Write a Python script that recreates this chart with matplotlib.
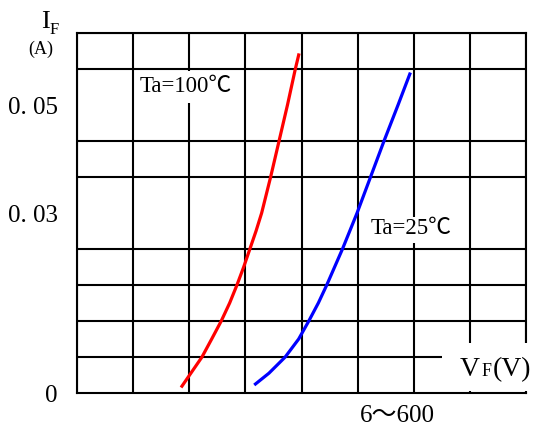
import matplotlib
matplotlib.use('Agg')
import matplotlib.pyplot as plt
from matplotlib.patches import Rectangle
from matplotlib.offsetbox import TextArea, HPacker, AnnotationBbox

# grid units: 8 columns (V) x 10 rows (I)
red_x = [1.87, 2.227, 2.40, 2.57, 2.72, 2.85, 2.97, 3.08, 3.19, 3.29,
         3.45, 3.60, 3.75, 3.89, 3.95]
red_y = [0.19, 1.0, 1.5, 2.0, 2.5, 3.0, 3.5, 4.0, 4.5, 5.0,
         6.0, 7.0, 8.0, 9.0, 9.39]
blue_x = [3.18, 3.42, 3.71, 3.95, 4.13, 4.30, 4.45, 4.73, 4.99, 5.23,
          5.47, 5.72, 5.93]
blue_y = [0.25, 0.55, 1.0, 1.5, 2.0, 2.5, 3.0, 4.0, 5.0, 6.0,
          7.0, 8.0, 8.86]

y_ticks = [0, 5, 8]
y_labels = ['0', '0. 03', '0. 05']
x_label = '6～600'

fonts = ['Liberation Serif', 'Noto Sans CJK SC']
plt.rcParams['font.family'] = fonts

fig = plt.figure(figsize=(5.35, 4.32), dpi=100)
ax = fig.add_axes([77 / 535, 1 - 393 / 432, 449 / 535, 360 / 432])
ax.set_xlim(0, 8)
ax.set_ylim(0, 10)

ax.set_xticks(range(9), minor=True)
ax.set_yticks(range(11), minor=True)
ax.set_xticks([])
ax.set_yticks(y_ticks, y_labels, fontsize=18)
ax.tick_params(which='both', length=0)
ax.tick_params(axis='y', pad=14)
ax.grid(which='minor', color='black', linewidth=1.5)
ax.set_axisbelow(True)
for s in ax.spines.values():
    s.set_linewidth(1.5)
    s.set_zorder(0.6)

# white boxes behind the labels
ax.add_patch(Rectangle((1.07, 8.05), 1.75, 0.9, facecolor='white',
                       edgecolor='none', zorder=1))
ax.add_patch(Rectangle((5.16, 4.17), 1.6, 0.72, facecolor='white',
                       edgecolor='none', zorder=1))
ax.add_patch(Rectangle((6.5, 0.06), 1.7, 1.33, facecolor='white',
                       edgecolor='none', zorder=1, clip_on=False))

ax.plot(red_x, red_y, color='#ff0000', linewidth=2.3, zorder=4)
ax.plot(blue_x, blue_y, color='#0000ff', linewidth=2.3, zorder=4)

ax.text(1.11, 8.5, 'Ta=100℃', fontsize=16.5, va='center', zorder=5)
ax.text(5.23, 4.56, 'Ta=25℃', fontsize=16.5, va='center', zorder=5)

# V_F (V) label
vf = HPacker(children=[TextArea('V', textprops=dict(fontsize=20)),
                       TextArea('F', textprops=dict(fontsize=13)),
                       TextArea('(V)', textprops=dict(fontsize=20))],
             align='baseline', pad=0, sep=1)
ab = AnnotationBbox(vf, (6.82, 0.64), box_alignment=(0, 0.5), frameon=False,
                    xycoords='data', zorder=5, annotation_clip=False)
ax.add_artist(ab)

ax.text(5.7, -0.64, x_label, fontsize=18, ha='center', va='center',
        clip_on=False)

ax.text(-0.57, 10.3, 'I', fontsize=19, ha='center', va='center', clip_on=False)
ax.text(-0.40, 10.08, 'F', fontsize=12, ha='center', va='center', clip_on=False)
ax.text(-0.64, 9.55, '(A)', fontsize=13, ha='center', va='center',
        clip_on=False)

fig.savefig('out.png', dpi=100)
